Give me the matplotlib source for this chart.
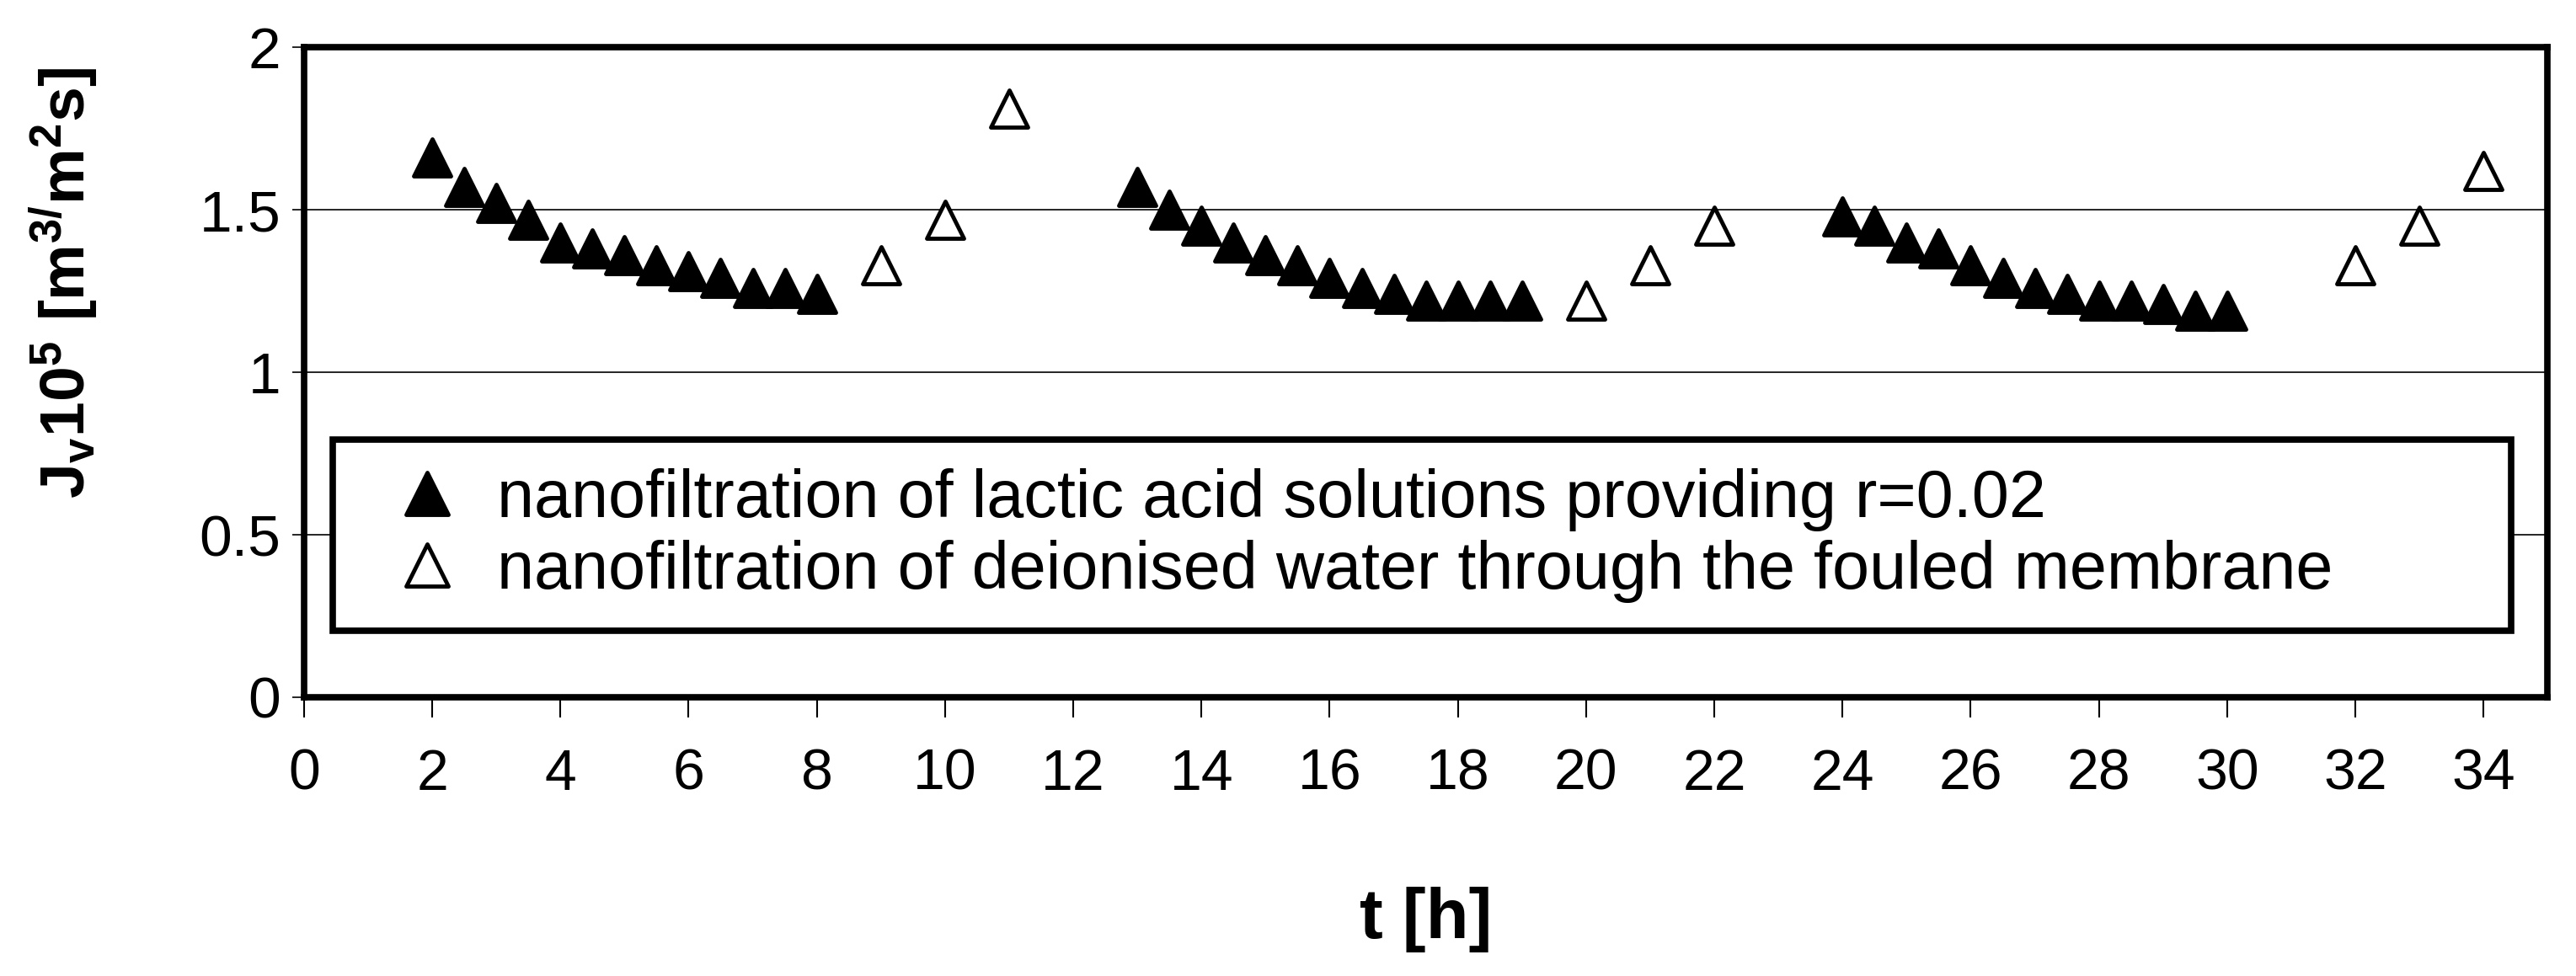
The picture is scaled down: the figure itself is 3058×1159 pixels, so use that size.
import numpy as np
import matplotlib
matplotlib.use('Agg')
from matplotlib import pyplot as plt
from matplotlib.markers import MarkerStyle

# flux during lactic acid runs (filled) and deionised water runs (open)
t_lactic = [2, 2.5, 3, 3.5, 4, 4.5, 5, 5.5, 6, 6.5, 7, 7.5, 8,
            13, 13.5, 14, 14.5, 15, 15.5, 16, 16.5, 17, 17.5, 18, 18.5, 19,
            24, 24.5, 25, 25.5, 26, 26.5, 27, 27.5, 28, 28.5, 29, 29.5, 30]
jv_lactic = [1.66, 1.57, 1.52, 1.47, 1.40, 1.38, 1.36, 1.33, 1.31, 1.29, 1.26, 1.26, 1.24,
             1.57, 1.50, 1.45, 1.40, 1.36, 1.33, 1.29, 1.26, 1.24, 1.22, 1.22, 1.22, 1.22,
             1.48, 1.45, 1.40, 1.38, 1.33, 1.29, 1.26, 1.24, 1.22, 1.22, 1.21, 1.19, 1.19]
t_water = [9, 10, 11, 20, 21, 22, 32, 33, 34]
jv_water = [1.33, 1.47, 1.81, 1.22, 1.33, 1.45, 1.33, 1.45, 1.62]

lab_lactic = 'nanofiltration of lactic acid solutions providing r=0.02'
lab_water = 'nanofiltration of deionised water through the fouled membrane'

plt.rcParams['font.family'] = ['Liberation Sans', 'DejaVu Sans']
plt.rcParams['mathtext.fontset'] = 'custom'
plt.rcParams['mathtext.rm'] = 'Liberation Sans:bold'
plt.rcParams['mathtext.bf'] = 'Liberation Sans:bold'
plt.rcParams['mathtext.it'] = 'Liberation Sans:bold'
plt.rcParams['mathtext.default'] = 'bf'

fig = plt.figure(figsize=(30.58, 11.59), dpi=100)
ax = fig.add_axes([0.118, 0.2856, 0.871, 0.666])

tri = MarkerStyle('^', joinstyle='round')
ax.plot(t_lactic, jv_lactic, linestyle='none', marker=tri, ms=31,
        mfc='black', mec='black', mew=3.5, label=lab_lactic, zorder=3)
ax.plot(t_water, jv_water, linestyle='none', marker=tri, ms=31,
        mfc='white', mec='black', mew=3.5, label=lab_water, zorder=3)

ax.set_xlim(0, 35)
ax.set_ylim(0, 2)
ax.set_xticks(np.arange(0, 35, 2))
ax.set_yticks([0, 0.5, 1, 1.5, 2])
ax.set_yticklabels(['0', '0.5', '1', '1.5', '2'])
ax.grid(axis='y', color='black', linewidth=1.2)
ax.set_axisbelow(True)

for s in ax.spines.values():
    s.set_linewidth(5.5)
ax.tick_params(axis='x', direction='out', length=17, width=1.5, pad=26, labelsize=49)
ax.tick_params(axis='y', direction='out', length=10, width=1.2, pad=10, labelsize=50)

ax.set_xlabel('t [h]', fontsize=60, fontweight='bold', va='center')
ax.xaxis.set_label_coords(0.5, -0.342)
ax.set_ylabel(r'$J_v10^5\ [m^{3/}m^2s]$', fontsize=54, va='center')
ax.yaxis.set_label_coords(-0.107, 0.637)

leg = ax.legend(loc='center left', bbox_to_anchor=(0.0128, 0.098, 0.971, 0.302),
                mode='expand', fontsize=57, frameon=True, fancybox=False,
                framealpha=1, borderpad=0.42, labelspacing=0.13, handlelength=2.0,
                handletextpad=0.05, markerscale=1.15, borderaxespad=0)
leg.get_frame().set_edgecolor('black')
leg.get_frame().set_linewidth(5.5)

plt.savefig('out.png', dpi=100)
